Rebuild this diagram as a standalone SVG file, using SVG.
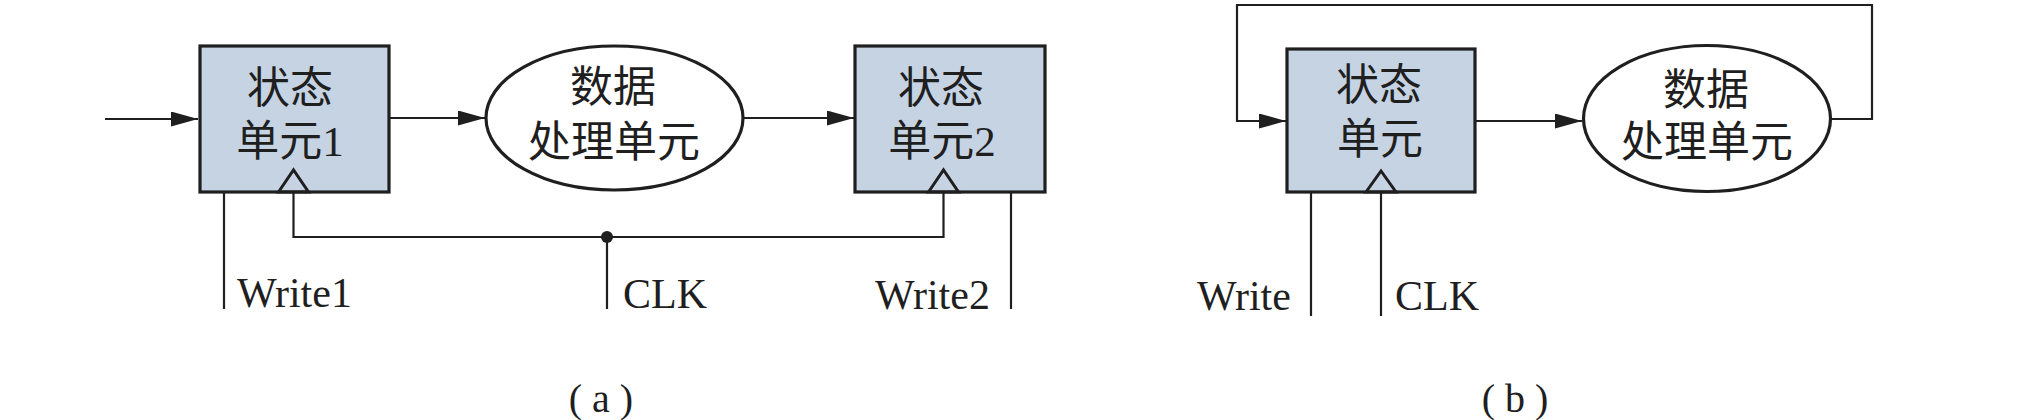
<svg xmlns="http://www.w3.org/2000/svg" width="2036" height="420" viewBox="0 0 2036 420">
<style>
.box{fill:#c6d3e3;stroke:#1f1f1f;stroke-width:3.2}
.ell{fill:#fff;stroke:#1f1f1f;stroke-width:3.2}
.clk{fill:none;stroke:#1f1f1f;stroke-width:3;stroke-linejoin:miter}
.ln{fill:none;stroke:#1f1f1f;stroke-width:2.2}
.cj{font-family:"Liberation Serif","Noto Sans CJK SC",serif;font-size:43px;fill:#1f1f1f;text-anchor:middle}
.lb{font-family:"Liberation Serif",serif;font-size:42px;fill:#1f1f1f}
.cap{font-family:"Liberation Serif",serif;font-size:40px;fill:#1f1f1f;text-anchor:middle}
</style>
<defs>
<marker id="ah" markerUnits="userSpaceOnUse" markerWidth="27" markerHeight="15" refX="27" refY="7.5" orient="auto">
<path d="M0,0 L27,7.5 L0,15 z" fill="#1f1f1f"/>
</marker>
</defs>
<g id="connectors">
<path class="ln" d="M105,119 H198" marker-end="url(#ah)"/>
<path class="ln" d="M389,118 H485" marker-end="url(#ah)"/>
<path class="ln" d="M743,118 H854" marker-end="url(#ah)"/>
<path class="ln" d="M293.5,192 V237 H943.5 V192"/>
<path class="ln" d="M607,237 V309"/>
<circle cx="607" cy="237" r="6" fill="#1f1f1f"/>
<path class="ln" d="M224,192 V309"/>
<path class="ln" d="M1011,192 V309"/>
<path class="ln" d="M1831,119 H1872 V5 H1237 V121 H1286" marker-end="url(#ah)"/>
<path class="ln" d="M1475,121 H1582" marker-end="url(#ah)"/>
<path class="ln" d="M1311,192 V316"/>
<path class="ln" d="M1381,192 V316"/>
</g>
<g id="state1">
<rect class="box" x="200" y="46" width="189" height="146"/>
<polygon class="clk" points="278.5,192 293.5,170 308.5,192"/>
<text class="cj" x="290" y="103">状态</text>
<text class="cj" x="290" y="156">单元1</text>
</g>
<g id="proc1">
<ellipse class="ell" cx="614.5" cy="118" rx="128.5" ry="72"/>
<text class="cj" x="613" y="102">数据</text>
<text class="cj" x="614" y="157">处理单元</text>
</g>
<g id="state2">
<rect class="box" x="855" y="46" width="190" height="146"/>
<polygon class="clk" points="928.5,192 943.5,170 958.5,192"/>
<text class="cj" x="941" y="103">状态</text>
<text class="cj" x="942" y="156">单元2</text>
</g>
<g id="labels-a">
<text class="lb" x="237" y="307">Write1</text>
<text class="lb" x="623" y="308">CLK</text>
<text class="lb" x="875" y="309">Write2</text>
<text class="cap" x="601" y="412">( a )</text>
</g>
<g id="state3">
<rect class="box" x="1287" y="49" width="188" height="143"/>
<polygon class="clk" points="1366,192 1381,171 1396,192"/>
<text class="cj" x="1379" y="100">状态</text>
<text class="cj" x="1380" y="154">单元</text>
</g>
<g id="proc2">
<ellipse class="ell" cx="1707" cy="118.5" rx="123.5" ry="73"/>
<text class="cj" x="1706" y="105">数据</text>
<text class="cj" x="1707" y="157">处理单元</text>
</g>
<g id="labels-b">
<text class="lb" x="1197" y="310">Write</text>
<text class="lb" x="1395" y="310">CLK</text>
<text class="cap" x="1515" y="412">( b )</text>
</g>
</svg>
